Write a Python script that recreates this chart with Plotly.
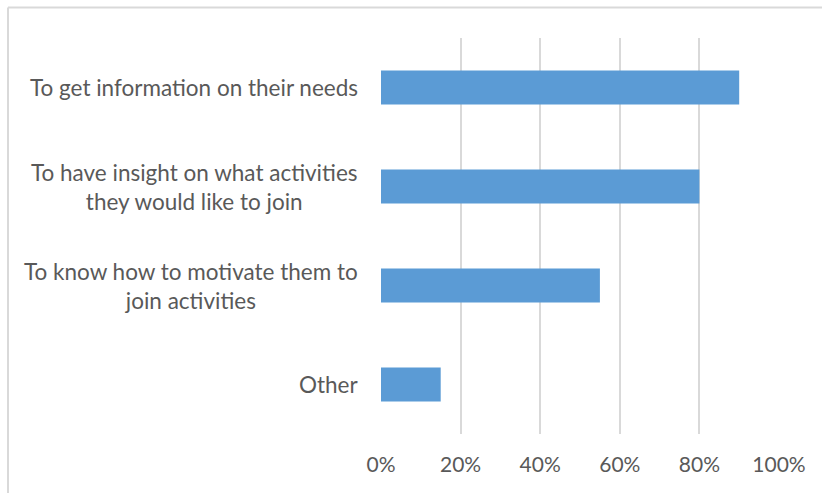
import plotly.graph_objects as go

# Survey reasons and share of respondents
categories = [
    "To get information on their needs",
    "To have insight on what activities<br>they would like to join",
    "To know how to motivate them to<br>join activities",
    "Other",
]
values = [0.90, 0.80, 0.55, 0.15]
tick_vals = [0, 0.2, 0.4, 0.6, 0.8, 1.0]
tick_text = ["0%", "20%", "40%", "60%", "80%", "100%"]

W, H = 822, 493
L, R, T, B = 381, 43, 38, 59
FONT = "Lato"
GREY = "#595959"

fig = go.Figure(
    go.Bar(
        x=values,
        y=categories,
        orientation="h",
        marker=dict(color="#5b9bd5", line=dict(width=0)),
        hoverinfo="skip",
    )
)

# Centered, right-anchored category labels
for c in categories:
    fig.add_annotation(
        x=0, xref="paper", y=c, yref="y",
        text=c, showarrow=False,
        xanchor="right", align="center", xshift=-21,
        font=dict(family=FONT, size=22.5, color=GREY),
    )

# Chart frame (left and top edges visible)
pw, ph = W - L - R, H - T - B
fx0 = (8 - L) / pw
fy1 = (H - B - 7.5) / ph
fig.add_shape(type="line", xref="paper", yref="paper",
              x0=fx0, x1=fx0, y0=-1, y1=fy1,
              line=dict(color="#d9d9d9", width=2))
fig.add_shape(type="line", xref="paper", yref="paper",
              x0=fx0, x1=2, y0=fy1, y1=fy1,
              line=dict(color="#d9d9d9", width=2))

fig.update_layout(
    width=W, height=H,
    margin=dict(l=L, r=R, t=T, b=B),
    paper_bgcolor="white", plot_bgcolor="white",
    bargap=0.655,
    showlegend=False,
    font=dict(family=FONT, size=21, color=GREY),
    xaxis=dict(
        range=[0, 1.0], tickvals=tick_vals, ticktext=tick_text,
        showgrid=True, gridcolor="#d9d9d9", gridwidth=1.5,
        zeroline=False, showline=False, ticks="",
        ticklabelstandoff=16,
        tickfont=dict(family=FONT, size=21, color=GREY),
    ),
    yaxis=dict(
        autorange="reversed", showticklabels=False,
        showgrid=False, zeroline=False, showline=False, ticks="",
    ),
)

fig.write_html("out.html")
